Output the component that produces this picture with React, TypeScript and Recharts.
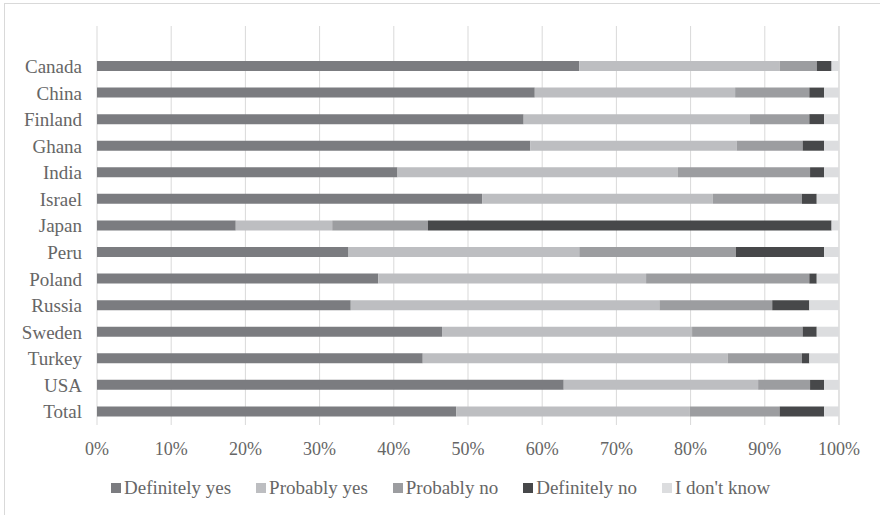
import { BarChart, Bar, XAxis, YAxis, CartesianGrid, Legend } from "recharts";

const countries = [
  "Canada", "China", "Finland", "Ghana", "India", "Israel", "Japan",
  "Peru", "Poland", "Russia", "Sweden", "Turkey", "USA", "Total"
];

const definitelyYes = [65, 59, 57.5, 58.4, 40.5, 51.9, 18.7, 33.9, 37.9, 34.2, 46.5, 43.9, 62.9, 48.4];
const probablyYes = [27, 27, 30.5, 27.8, 37.8, 31.1, 13, 31.1, 36.1, 41.6, 33.7, 41.1, 26.2, 31.5];
const probablyNo = [5, 10, 8, 8.9, 17.8, 12, 12.9, 21.1, 22, 15.2, 14.9, 10, 7, 12.1];
const definitelyNo = [2, 2, 2, 2.9, 1.9, 2, 54.4, 11.9, 1, 5, 1.9, 1, 1.9, 6];
const dontKnow = [1, 2, 2, 2, 2, 3, 1, 2, 3, 4, 3, 4, 2, 2];

const percentTicks = [0, 10, 20, 30, 40, 50, 60, 70, 80, 90, 100];

const series = [
  { key: "defYes", name: "Definitely yes", color: "#7b7c80", values: definitelyYes },
  { key: "probYes", name: "Probably yes", color: "#bdbec1", values: probablyYes },
  { key: "probNo", name: "Probably no", color: "#9c9da0", values: probablyNo },
  { key: "defNo", name: "Definitely no", color: "#47484a", values: definitelyNo },
  { key: "dk", name: "I don't know", color: "#dcdddf", values: dontKnow }
];

const rows = countries.map((name, i) => {
  const row: Record<string, string | number> = { name };
  series.forEach((s) => {
    row[s.key] = s.values[i];
  });
  return row;
});

const textColor = "#666666";
const fontFamily = "'Liberation Serif', 'Times New Roman', serif";

// legend drawn like excel: small square, tight gap, wide spacing between items
// (recharts sorts its payload by name, so keep the series order here)
function renderLegend() {
  return (
    <div
      style={{
        display: "flex",
        alignItems: "center",
        height: 46,
        paddingLeft: 111,
        fontFamily,
        fontSize: 19,
        color: textColor
      }}
    >
      {series.map((s) => (
        <div key={s.key} style={{ display: "flex", alignItems: "center", marginRight: 25 }}>
          <span
            style={{
              display: "inline-block",
              width: 10,
              height: 10,
              background: s.color,
              marginRight: 3
            }}
          />
          <span style={{ whiteSpace: "nowrap" }}>{s.name}</span>
        </div>
      ))}
    </div>
  );
}

export default function App() {
  return (
    <div
      style={{
        position: "absolute",
        left: 0,
        top: 0,
        width: 880,
        height: 515,
        overflow: "hidden",
        background: "#fff"
      }}
    >
      {/* chart frame, right and bottom edges fall outside the picture */}
      <div
        style={{
          position: "absolute",
          left: 4,
          top: 3,
          width: 900,
          height: 540,
          border: "1px solid #d9d9d9"
        }}
      />
      <div style={{ position: "absolute", left: 0, top: 0 }}>
        <BarChart
          width={880}
          height={515}
          data={rows}
          layout="vertical"
          margin={{ top: 26, right: 41, left: 0, bottom: 0 }}
          style={{ fontFamily }}
        >
          <CartesianGrid horizontal={false} stroke="#d9d9d9" />
          <XAxis
            type="number"
            domain={[0, 100]}
            ticks={percentTicks}
            tickFormatter={(v) => `${v}%`}
            axisLine={false}
            tickLine={false}
            tickSize={0}
            tickMargin={17}
            height={40}
            tick={{ fill: textColor, fontSize: 18 }}
          />
          <YAxis
            type="category"
            dataKey="name"
            width={97}
            axisLine={false}
            tickLine={false}
            tickSize={0}
            tickMargin={15}
            padding={{ top: 27, bottom: 0 }}
            tick={{ fill: textColor, fontSize: 19 }}
            interval={0}
          />
          <Legend verticalAlign="bottom" height={50} content={renderLegend} />
          {series.map((s) => (
            <Bar
              key={s.key}
              dataKey={s.key}
              name={s.name}
              stackId="a"
              fill={s.color}
              barSize={10}
              isAnimationActive={false}
            />
          ))}
        </BarChart>
      </div>
    </div>
  );
}
